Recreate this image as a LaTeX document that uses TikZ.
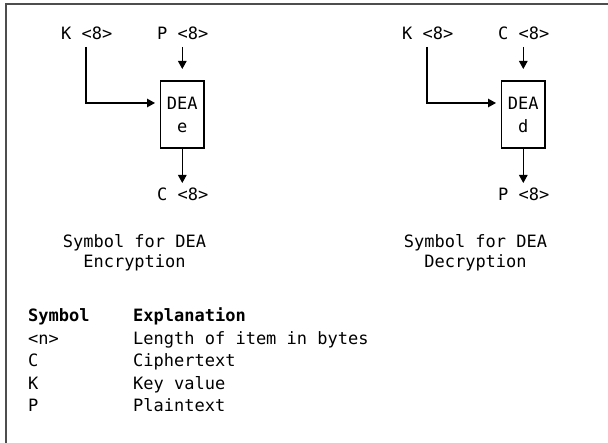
\documentclass[tikz,border=0pt]{standalone}
\usepackage{fontspec}
\setmainfont{DejaVu Sans Mono}
\usetikzlibrary{arrows.meta}
\definecolor{framegray}{HTML}{4D4D4D}
\tikzset{
  txt/.style={anchor=base west, inner sep=0pt, font=\fontsize{17}{20}\selectfont},
  ctxt/.style={anchor=base, inner sep=0pt, font=\fontsize{17}{20}\selectfont},
  deabox/.style={draw, line width=1.3pt, minimum width=43.3pt, minimum height=67pt, inner sep=0pt},
  wire/.style={line width=1.3pt},
  arr/.style={line width=1.3pt, -{Triangle[length=8pt,width=8.5pt]}},
  framel/.style={line width=2pt, draw=framegray}
}
\begin{document}
\begin{tikzpicture}[x=1pt,y=-1pt]
\useasboundingbox (0,0) rectangle (608,443);
% frame (top and left visible)
\coordinate (fbl) at (5.5,443);
\coordinate (ftl) at (5.5,4.5);
\coordinate (ftr) at (608,4.5);
\draw[framel] (fbl) -- (ftl) -- (ftr);

% ---------- Encryption ----------
\node[txt] (eK) at (61,40) {K <8>};
\node[txt] (eP) at (157,40) {P <8>};
\node[deabox] (ebox) at (182.3,114.5) {};
\node[ctxt] (eDEA) at (182.3,110) {DEA};
\node[ctxt] (ee) at (182.3,133) {e};
\node[txt] (eC) at (157,201) {C <8>};
\node[ctxt] (es1) at (134.5,248) {Symbol for DEA};
\node[ctxt] (es2) at (134.5,268) {Encryption};
\coordinate (eKs) at (86,47);
\coordinate (eKe) at (155,103);
\coordinate (ePs) at (182.3,47);
\coordinate (ePe) at (182.3,69);
\coordinate (eCe) at (182.3,183);
\draw[arr] (eKs) |- (eKe);
\draw[arr] (ePs) -- (ePe);
\draw[arr] (ebox.south) -- (eCe);

% ---------- Decryption ----------
\node[txt] (dK) at (402,40) {K <8>};
\node[txt] (dC) at (498,40) {C <8>};
\node[deabox] (dbox) at (523.3,114.5) {};
\node[ctxt] (dDEA) at (523.3,110) {DEA};
\node[ctxt] (dd) at (523.3,133) {d};
\node[txt] (dP) at (498,201) {P <8>};
\node[ctxt] (ds1) at (475.5,248) {Symbol for DEA};
\node[ctxt] (ds2) at (475.5,268) {Decryption};
\coordinate (dKs) at (427,47);
\coordinate (dKe) at (496,103);
\coordinate (dCs) at (523.3,47);
\coordinate (dCe) at (523.3,69);
\coordinate (dPe) at (523.3,183);
\draw[arr] (dKs) |- (dKe);
\draw[arr] (dCs) -- (dCe);
\draw[arr] (dbox.south) -- (dPe);

% ---------- Legend ----------
\node[txt, font=\fontsize{17}{20}\selectfont\bfseries] (h1) at (28,322) {Symbol};
\node[txt, font=\fontsize{17}{20}\selectfont\bfseries] (h2) at (133,322) {Explanation};
\node[txt] (r1a) at (28,344.5) {<n>};
\node[txt] (r1b) at (133,344.5) {Length of item in bytes};
\node[txt] (r2a) at (28,367) {C};
\node[txt] (r2b) at (133,367) {Ciphertext};
\node[txt] (r3a) at (28,389.5) {K};
\node[txt] (r3b) at (133,389.5) {Key value};
\node[txt] (r4a) at (28,412) {P};
\node[txt] (r4b) at (133,412) {Plaintext};
\end{tikzpicture}
\end{document}
